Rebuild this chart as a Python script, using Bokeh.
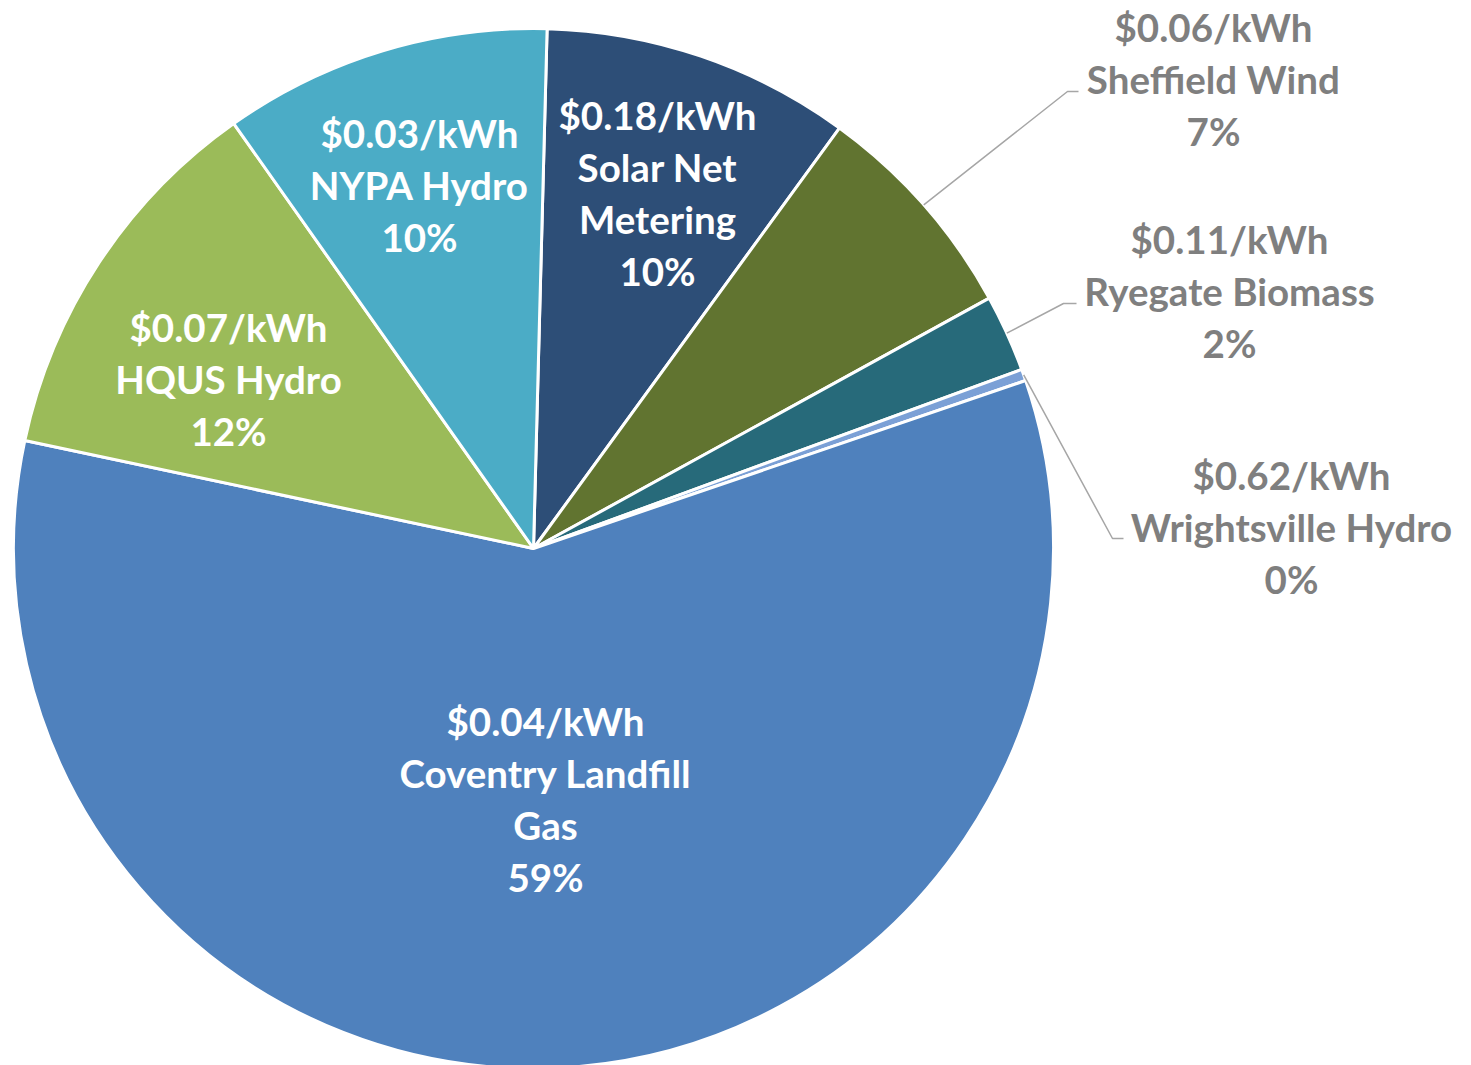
import math
from bokeh.plotting import figure
from bokeh.models import Range1d, ColumnDataSource
from bokeh.core.properties import value
from bokeh.embed import file_html
from bokeh.resources import INLINE

# ---- data ----
sources = ["Solar Net Metering", "Sheffield Wind", "Ryegate Biomass", "Wrightsville Hydro",
           "Coventry Landfill Gas", "HQUS Hydro", "NYPA Hydro"]
label_names = [["Solar Net", "Metering"], ["Sheffield Wind"], ["Ryegate Biomass"], ["Wrightsville Hydro"],
               ["Coventry Landfill", "Gas"], ["HQUS Hydro"], ["NYPA Hydro"]]
prices = ["$0.18/kWh", "$0.06/kWh", "$0.11/kWh", "$0.62/kWh", "$0.04/kWh", "$0.07/kWh", "$0.03/kWh"]
shares = [9.6, 7.0, 2.4, 0.36, 58.6, 11.9, 10.2]
colors = ["#2D4E77", "#617430", "#276A7A", "#7BA0D6", "#4F81BD", "#9BBB59", "#4BACC6"]
first_slice_angle = 1.5  # degrees clockwise from 12 o'clock

# ---- layout (page pixel coordinates) ----
W, H = 1471, 1065
CX, CY, R = 533, 548, 520
inside = [True, False, False, False, True, True, True]
label_pos = [(657, 192), (1213, 78), (1229, 290), (1291, 526), (545, 798), (228, 378), (419, 184)]
leader_end = {1: [(1067, 91), (1078, 91)], 2: [(1063, 303), (1076, 303)], 3: [(1112, 538), (1123, 538)]}
LINE_H = 52
FONT = "Lato"
FSIZE = "38.5px"

p = figure(width=W, height=H, output_backend="svg", toolbar_location=None,
           x_range=Range1d(0, W), y_range=Range1d(-H, 0),
           min_border=0, outline_line_color=None)
p.axis.visible = False
p.grid.visible = False
p.background_fill_color = "white"
p.border_fill_color = "white"

total = sum(shares)
starts, ends, mids = [], [], []
acc = first_slice_angle
for s in shares:
    a0 = acc
    a1 = acc + 360.0 * s / total
    starts.append(math.radians(90 - a0))
    ends.append(math.radians(90 - a1))
    mids.append((a0 + a1) / 2)
    acc = a1

src = ColumnDataSource(dict(start=starts, end=ends, color=colors,
                            x=[CX] * len(shares), y=[-CY] * len(shares)))
p.wedge(x="x", y="y", radius=R, start_angle="start", end_angle="end", direction="clock",
        fill_color="color", line_color="white", line_width=3, source=src)

# leader lines
for i, pts in leader_end.items():
    m = math.radians(mids[i])
    sx = CX + R * math.sin(m)
    sy = CY - R * math.cos(m)
    xs = [sx] + [q[0] for q in pts]
    ys = [-sy] + [-q[1] for q in pts]
    p.line(xs, ys, line_color="#A6A6A6", line_width=1.5)

# labels
tx, ty, tt, tc = [], [], [], []
for i in range(len(shares)):
    pct = f"{round(shares[i] / total * 100)}%"
    lines = [prices[i]] + label_names[i] + [pct]
    n = len(lines)
    lx, ly = label_pos[i]
    for k, t in enumerate(lines):
        tx.append(lx)
        ty.append(-(ly + (k - (n - 1) / 2) * LINE_H))
        tt.append(t)
        tc.append("white" if inside[i] else "#7F7F7F")

p.text(x=tx, y=ty, text=tt, text_color=tc, text_align="center", text_baseline="middle",
       text_font=value(FONT), text_font_style="bold", text_font_size=FSIZE)

open("out.html", "w").write(file_html(p, INLINE))
